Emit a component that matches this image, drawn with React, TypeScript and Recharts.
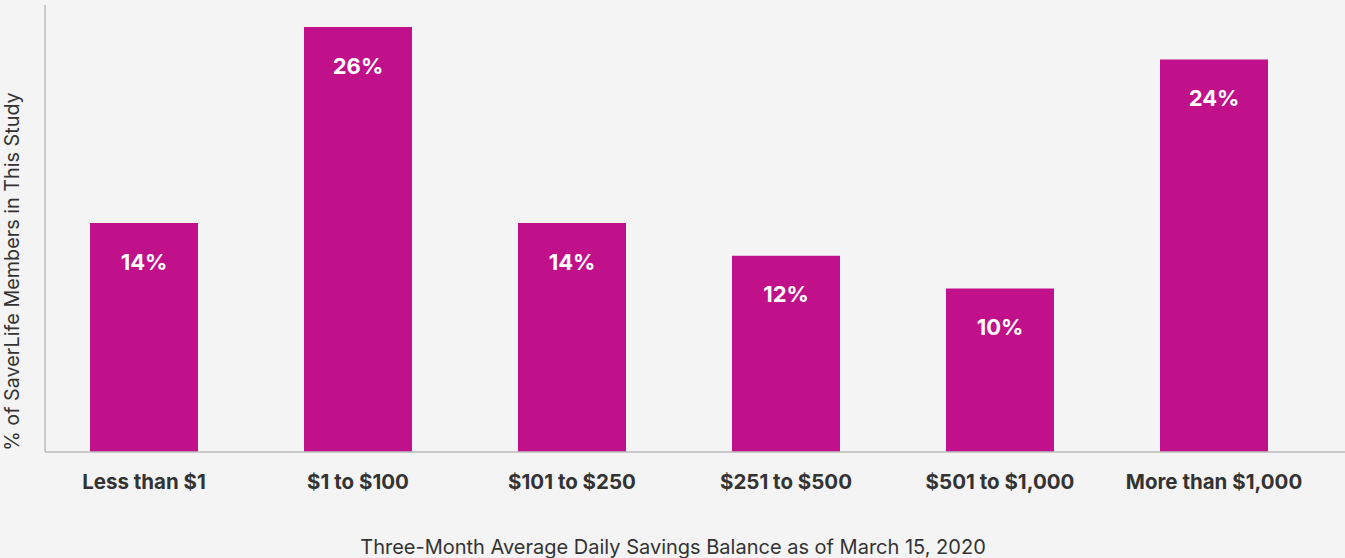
import React from "react";
import { BarChart, Bar, XAxis, YAxis, LabelList, Label } from "recharts";

const categories = ["Less than $1", "$1 to $100", "$101 to $250", "$251 to $500", "$501 to $1,000", "More than $1,000"];
const shares = [14, 26, 14, 12, 10, 24];
const yLabel = "% of SaverLife Members in This Study";
const xLabel = "Three-Month Average Daily Savings Balance as of March 15, 2020";

const data = categories.map((c, i) => ({ name: c, value: shares[i] }));

const FONT = "Inter, 'Noto Sans', sans-serif";

export default function App() {
  return (
    <div style={{ position: "absolute", left: 0, top: 0, width: 1345, height: 558, background: "#f4f4f4", fontFamily: FONT }}>
      <BarChart width={1345} height={558} data={data} margin={{ top: 5, right: 0, bottom: 0, left: 0 }}>
        <XAxis
          dataKey="name"
          height={106}
          padding={{ left: -8, right: 24 }}
          axisLine={{ stroke: "#bdbdbd", strokeWidth: 1.5 }}
          tickLine={false}
          tickSize={0}
          tickMargin={22}
          tick={{ fill: "#333", fontSize: 20.5, fontWeight: 700, fontFamily: FONT }}
          interval={0}
        >
          <Label value={xLabel} position="insideBottom" offset={4} dx={-22} style={{ fill: "#333", fontSize: 20, fontFamily: FONT }} />
        </XAxis>
        <YAxis
          width={45}
          domain={[0, 27.34]}
          tick={false}
          tickLine={false}
          axisLine={{ stroke: "#bdbdbd", strokeWidth: 1.5 }}
        >
          <Label
            content={(props: any) => {
              const vb = props.viewBox || {};
              const cx = 19;
              const cy = (vb.y ?? 5) + (vb.height ?? 447) / 2 + 43;
              return (
                <text x={cx} y={cy} transform={`rotate(-90, ${cx}, ${cy})`} textAnchor="middle" fill="#333" fontSize={19.8} fontFamily={FONT}>
                  {yLabel}
                </text>
              );
            }}
          />
        </YAxis>
        <Bar dataKey="value" fill="#c0118b" barSize={108} isAnimationActive={false}>
          <LabelList
            dataKey="value"
            position="insideTop"
            offset={31}
            formatter={(v: any) => `${v}%`}
            style={{ fill: "#fff", fontSize: 22, fontWeight: 700, fontFamily: FONT }}
          />
        </Bar>
      </BarChart>
    </div>
  );
}
